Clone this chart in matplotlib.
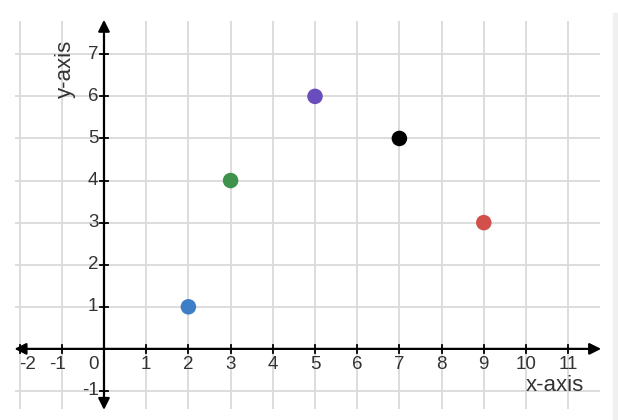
import matplotlib.pyplot as plt
from matplotlib.patches import Rectangle

# Точки на графике
xs = [2, 3, 5, 7, 9]
ys = [1, 4, 6, 5, 3]
colors = ['#3e7ec6', '#3f924c', '#6a4dbd', '#000000', '#d2504b']

x_ticks = list(range(-2, 12))
y_ticks = list(range(-1, 8))
x_tick_labels = [str(v) for v in x_ticks]
y_tick_labels = [str(v) for v in y_ticks if v != 0]

plt.rcParams['font.family'] = ['Liberation Sans', 'DejaVu Sans']

fig = plt.figure(figsize=(6.18, 4.2), dpi=100)
ax = fig.add_axes([0, 0, 1, 1])
ax.set_xlim(-2.464, 12.18)
ax.set_ylim(-1.69, 8.29)
ax.axis('off')

grid_c = '#dadada'
# сетка
ax.vlines(x_ticks, -1.43, 7.8, color=grid_c, lw=1.3, zorder=1)
ax.hlines(y_ticks, -2.1, 11.75, color=grid_c, lw=1.3, zorder=1)

# оси со стрелками
ax.annotate('', xy=(-2.12, 0), xytext=(11.78, 0),
            arrowprops=dict(arrowstyle='<|-|>', color='black', lw=1.6,
                            mutation_scale=17, shrinkA=0, shrinkB=0), zorder=3)
ax.annotate('', xy=(0, -1.45), xytext=(0, 7.82),
            arrowprops=dict(arrowstyle='<|-|>', color='black', lw=1.6,
                            mutation_scale=17, shrinkA=0, shrinkB=0), zorder=3)

# засечки
t = 0.09
for v in x_ticks:
    if v != 0:
        ax.plot([v, v], [-t, t], color='black', lw=1.3, zorder=3)
for v in y_ticks:
    if v != 0:
        ax.plot([-t, t], [v, v], color='black', lw=1.3, zorder=3)

txt_c = '#333333'
for v, lab in zip(x_ticks, x_tick_labels):
    dx = 0
    if v == -2:
        dx = 0.2
    elif v < 0:
        dx = -0.1
    elif v == 0:
        dx = -0.25
    ax.text(v + dx, -0.36, lab, ha='center', va='center', fontsize=13.5, color=txt_c)
for v, lab in zip([v for v in y_ticks if v != 0], y_tick_labels):
    ax.text(-0.13, v, lab, ha='right', va='center', fontsize=13.5, color=txt_c)

ax.text(-0.92, 6.66, 'y-axis', rotation=90, ha='center', va='center',
        fontsize=16, color=txt_c)
ax.text(10.68, -0.86, 'x-axis', ha='center', va='center', fontsize=16, color=txt_c)

ax.scatter(xs, ys, s=125, c=colors, zorder=4, linewidths=0)

# серая полоса справа
fig.patches.append(Rectangle((613 / 618, 0), 5 / 618, 407 / 420,
                             transform=fig.transFigure, color='#f0f0f0', zorder=0))

fig.savefig('out.png', dpi=100)
